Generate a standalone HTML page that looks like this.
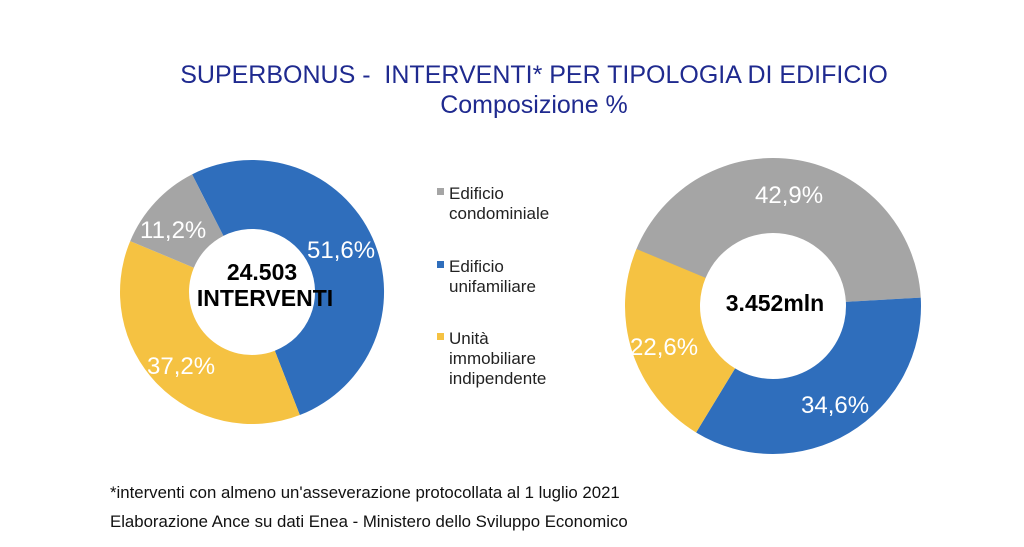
<!DOCTYPE html>
<html><head><meta charset="utf-8"><style>
body{margin:0;background:#fff;}
svg{display:block;font-family:"Liberation Sans",Arial,sans-serif;}
</style></head><body>
<svg id="s" width="1024" height="547" viewBox="0 0 1024 547">
<text x="534" y="83" text-anchor="middle" font-size="25" fill="#1f2a8f" xml:space="preserve">SUPERBONUS -  INTERVENTI* PER TIPOLOGIA DI EDIFICIO</text>
<text x="534" y="113" text-anchor="middle" font-size="25" fill="#1f2a8f">Composizione %</text>
<g id="g"></g>
<g font-size="24" fill="#fff">
<text x="140" y="238">11,2%</text>
<text x="307" y="258">51,6%</text>
<text x="147" y="374">37,2%</text>
<text x="755" y="203">42,9%</text>
<text x="630" y="355">22,6%</text>
<text x="801" y="413">34,6%</text>
</g>
<g font-size="23" font-weight="bold" fill="#000" text-anchor="middle">
<text x="262" y="280">24.503</text>
<text x="265" y="306">INTERVENTI</text>
<text x="775" y="311">3.452mln</text>
</g>
<g font-size="17" fill="#222">
<rect x="437" y="188" width="7" height="7" fill="#a5a5a5"/>
<text x="449" y="199">Edificio</text><text x="449" y="219">condominiale</text>
<rect x="437" y="261" width="7" height="7" fill="#2f6ebc"/>
<text x="449" y="272">Edificio</text><text x="449" y="292">unifamiliare</text>
<rect x="437" y="333" width="7" height="7" fill="#f5c242"/>
<text x="449" y="344">Unità</text><text x="449" y="364">immobiliare</text><text x="449" y="384">indipendente</text>
</g>
<g font-size="16.8" fill="#111">
<text x="110" y="498">*interventi con almeno un'asseverazione protocollata al 1 luglio 2021</text>
<text x="110" y="527">Elaborazione Ance su dati Enea - Ministero dello Sviluppo Economico</text>
</g>
</svg>
<script>
function donut(cx,cy,R,r,start,parts){
  var g=document.getElementById('g'),a=start,h='';
  parts.forEach(function(p){
    var b=a+p[0]*3.6,ra=a*Math.PI/180,rb=b*Math.PI/180,l=(b-a)>180?1:0;
    var P=function(rr,t){return (cx+rr*Math.sin(t)).toFixed(2)+' '+(cy-rr*Math.cos(t)).toFixed(2);};
    h+='<path fill="'+p[1]+'" d="M'+P(R,ra)+' A'+R+' '+R+' 0 '+l+' 1 '+P(R,rb)+' L'+P(r,rb)+' A'+r+' '+r+' 0 '+l+' 0 '+P(r,ra)+' Z"/>';
    a=b;
  });
  g.innerHTML+=h;
}
var G='#a5a5a5',B='#2f6ebc',Y='#f5c242';
donut(252,292,132,63,-27,[[51.6,B],[37.2,Y],[11.2,G]]);
donut(773,306,148,73,-67.7,[[42.9,G],[34.6,B],[22.6,Y]]);
</script>
</body></html>
